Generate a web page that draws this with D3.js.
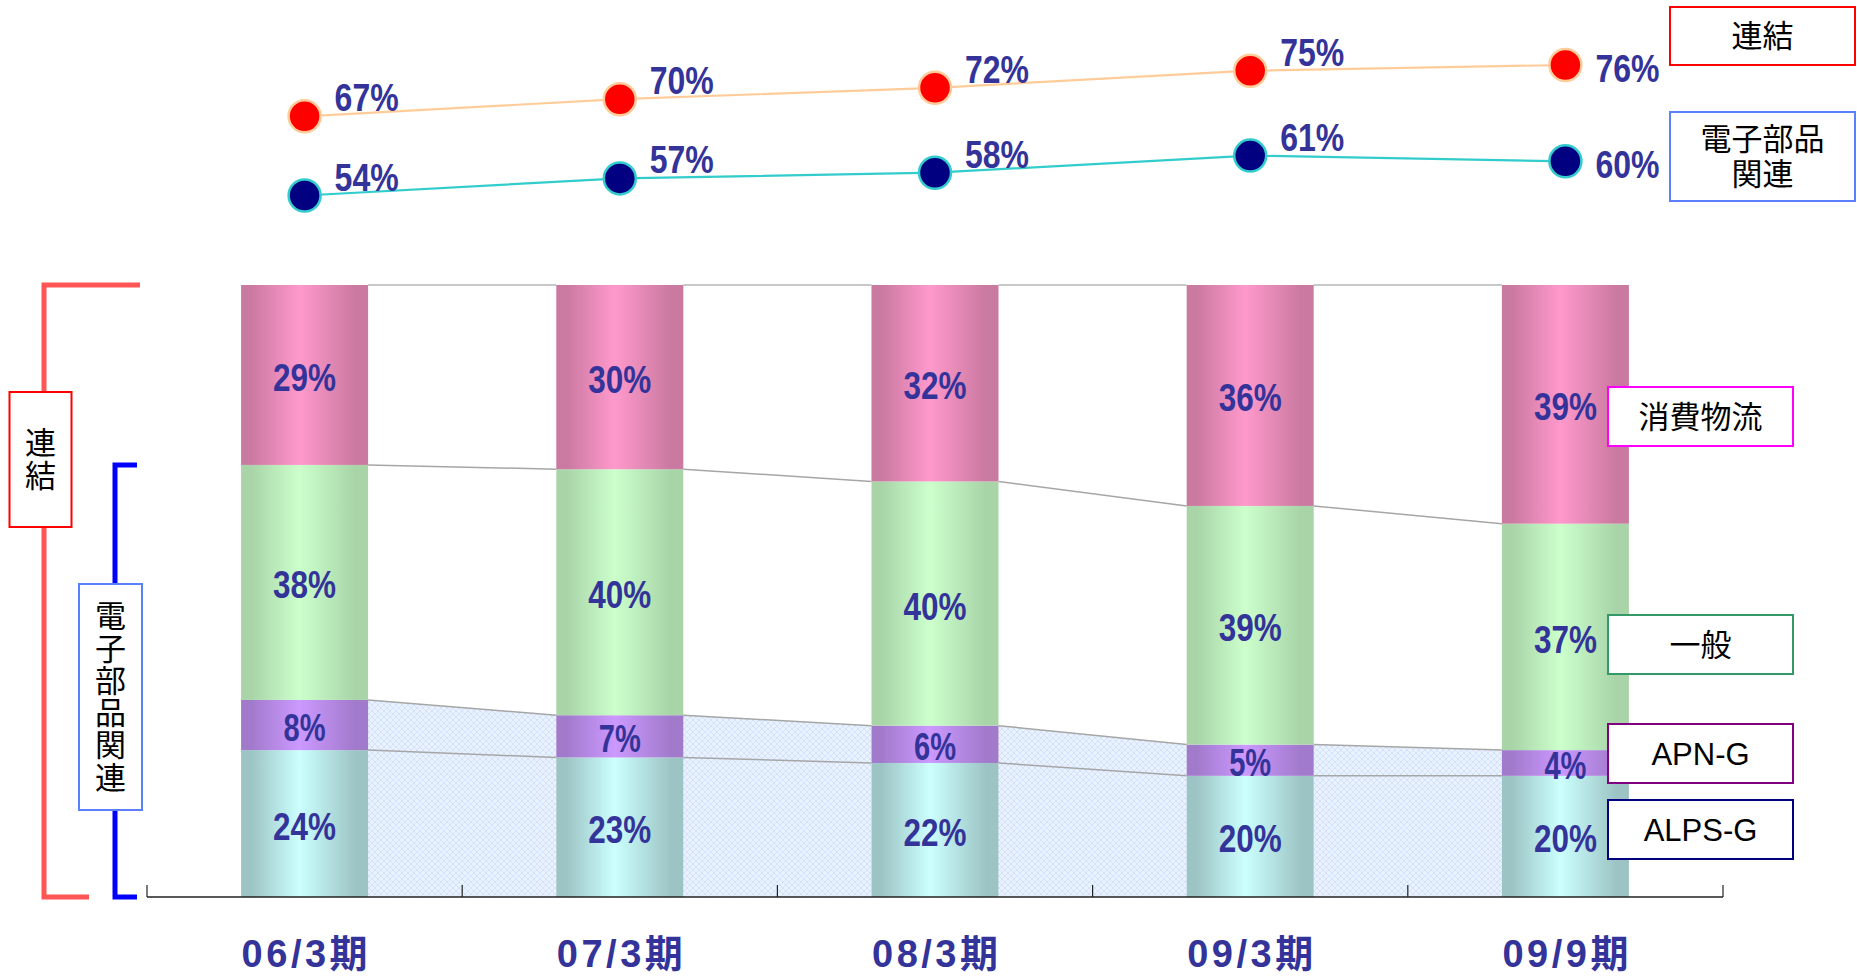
<!DOCTYPE html>
<html lang="ja">
<head>
<meta charset="utf-8">
<title>構成比</title>
<script src="https://cdn.jsdelivr.net/npm/d3@7"></script>
<style>
  body { margin: 0; background: #fff; }
  svg { display: block; font-family: "Liberation Sans", "Noto Sans CJK JP", sans-serif; }
</style>
</head>
<body>
<div class="canvas"></div>
<script>
// 期
var periods = ["06/3期", "07/3期", "08/3期", "09/3期", "09/9期"];
// 構成比(%) 下から積み上げ
var alpsG = [24.0, 22.8, 21.9, 19.8, 19.8];
var apnG  = [8.2, 6.9, 6.1, 5.1, 4.2];
var ippan = [38.4, 40.2, 39.9, 39.0, 37.0];
var shohi = [29.4, 30.1, 32.1, 36.1, 39.0];
// 折れ線(%)
var renketsu = [67, 70, 72, 75, 76];
var denshi   = [54, 57, 58, 61, 60];

var seriesKeys  = ["alps", "apn", "ippan", "shohi"];
var seriesNames = ["ALPS-G", "APN-G", "一般", "消費物流"];
var edgeColors   = ["#9dc4c4", "#a17acc", "#a8d4a8", "#ca79a0"];
var centerColors = ["#ccffff", "#cc99ff", "#ccffcc", "#ff99cc"];
var boxColors    = ["#000080", "#800080", "#339966", "#ff00ff"];
var labelColor = "#333399";

var width = 1857, height = 977;
var svg = d3.select(".canvas").append("svg")
    .attr("width", width)
    .attr("height", height);

// スケール
var x = d3.scaleBand().domain(periods).range([147, 1723])
    .paddingInner(0.597).paddingOuter(0.2985);
var bw = x.bandwidth();
var y = d3.scaleLinear().domain([0, 100]).range([897, 285]);
// 折れ線は別々の軸
var yRen = d3.scaleLinear().domain([0, 100]).range([498.2, -71.8]);
var yDen = d3.scaleLinear().domain([0, 100]).range([503.3, -66.7]);

var table = periods.map(function (p, i) {
  return { period: p, alps: alpsG[i], apn: apnG[i], ippan: ippan[i], shohi: shohi[i] };
});
var stacked = d3.stack().keys(seriesKeys)(table);

// グラデーション・網掛け
var defs = svg.append("defs");
seriesKeys.forEach(function (k, j) {
  var g = defs.append("linearGradient").attr("id", "grad-" + k)
      .attr("x1", 0).attr("x2", 1).attr("y1", 0).attr("y2", 0);
  [[0, edgeColors[j]], [0.08, edgeColors[j]], [0.46, centerColors[j]], [0.9, edgeColors[j]], [1, edgeColors[j]]]
    .forEach(function (s) {
      g.append("stop").attr("offset", s[0]).attr("stop-color", s[1]);
    });
});
var pat = defs.append("pattern").attr("id", "mesh")
    .attr("width", 6).attr("height", 6).attr("patternUnits", "userSpaceOnUse");
pat.append("rect").attr("width", 6).attr("height", 6).attr("fill", "#eaf2ff");
pat.append("path").attr("d", "M0,3L3,0L6,3L3,6Z")
    .attr("fill", "none").attr("stroke", "#d2e2fa").attr("stroke-width", 1);

// 電子部品関連の網掛け(棒の間)
var area = d3.area().x(function (d) { return d[0]; }).y0(y(0)).y1(function (d) { return d[1]; });
for (var i = 0; i < periods.length - 1; i++) {
  var x0 = x(periods[i]) + bw, x1 = x(periods[i + 1]);
  svg.append("path")
    .attr("d", area([[x0, y(stacked[1][i][1])], [x1, y(stacked[1][i + 1][1])]]))
    .attr("fill", "url(#mesh)");
}

// 区分線
stacked.forEach(function (s, j) {
  for (var i = 0; i < periods.length - 1; i++) {
    svg.append("line")
      .attr("x1", x(periods[i]) + bw).attr("y1", y(s[i][1]))
      .attr("x2", x(periods[i + 1])).attr("y2", y(s[i + 1][1]))
      .attr("stroke", j == 3 ? "#c8c8c8" : "#a6a6a6")
      .attr("stroke-width", j == 3 ? 2 : 1.5);
  }
});

// 積み上げ棒
stacked.forEach(function (s, j) {
  svg.append("g").selectAll("rect")
    .data(s)
    .enter().append("rect")
      .attr("x", function (d) { return x(d.data.period); })
      .attr("y", function (d) { return y(d[1]); })
      .attr("width", bw)
      .attr("height", function (d) { return y(d[0]) - y(d[1]); })
      .attr("fill", "url(#grad-" + seriesKeys[j] + ")");
});

// 棒の中のラベル
stacked.forEach(function (s) {
  svg.append("g").selectAll("text")
    .data(s)
    .enter().append("text")
      .text(function (d) { return Math.round(d[1] - d[0]) + "%"; })
      .attr("x", function (d) { return x(d.data.period) + bw / 2 - this.textContent.length * 10.5; })
      .attr("y", function (d) { return (y(d[0]) + y(d[1])) / 2 + 16; })
      .attr("textLength", function () { return this.textContent.length * 21; })
      .attr("lengthAdjust", "spacingAndGlyphs")
      .attr("font-size", 39).attr("font-weight", "bold")
      .attr("fill", labelColor);
});

// 軸
svg.append("line").attr("x1", 147).attr("x2", 1723).attr("y1", y(0)).attr("y2", y(0))
    .attr("stroke", "#222").attr("stroke-width", 1.5);
var tickX = periods.map(function (p) { return x(p) - x.step() * 0.2985; });
tickX.push(x.range()[1]);
svg.append("g").selectAll("line")
  .data(tickX)
  .enter().append("line")
    .attr("x1", function (d) { return d; }).attr("x2", function (d) { return d; })
    .attr("y1", y(0) - 12).attr("y2", y(0))
    .attr("stroke", "#222").attr("stroke-width", 1.2);
svg.append("g").selectAll("text")
  .data(periods)
  .enter().append("text")
    .text(function (d) { return d; })
    .attr("x", function (d) { return x(d) + bw / 2 - 63; })
    .attr("y", 967)
    .attr("textLength", 126).attr("lengthAdjust", "spacing")
    .attr("font-size", 38).attr("font-weight", "bold")
    .attr("fill", labelColor);

// 折れ線
function drawLine(values, sy, lineColor, dotColor) {
  var line = d3.line()
    .x(function (d, i) { return x(periods[i]) + bw / 2; })
    .y(function (d) { return sy(d); });
  svg.append("path").attr("d", line(values))
    .attr("fill", "none").attr("stroke", lineColor).attr("stroke-width", 2.2);
  var g = svg.append("g").selectAll("g").data(values).enter();
  g.append("circle")
    .attr("cx", function (d, i) { return x(periods[i]) + bw / 2; })
    .attr("cy", function (d) { return sy(d); })
    .attr("r", 16)
    .attr("fill", dotColor).attr("stroke", lineColor).attr("stroke-width", 2.5);
  g.append("text")
    .text(function (d) { return d + "%"; })
    .attr("x", function (d, i) { return x(periods[i]) + bw / 2 + 30; })
    .attr("y", function (d, i) { return sy(d) + (i == values.length - 1 ? 17 : -5); })
    .attr("textLength", 64).attr("lengthAdjust", "spacingAndGlyphs")
    .attr("font-size", 39).attr("font-weight", "bold")
    .attr("fill", labelColor);
}
drawLine(renketsu, yRen, "#ffcc99", "#ff0000");
drawLine(denshi, yDen, "#33cccc", "#000080");

// 左の括弧
var top100 = y(100), base = y(0), denTop = y(stacked[3][0][0]);
svg.append("path").attr("d", "M140," + top100 + "H44V" + base + "H89")
    .attr("fill", "none").attr("stroke", "#ff5555").attr("stroke-width", 5);
svg.append("path").attr("d", "M137," + denTop + "H115V" + base + "H137")
    .attr("fill", "none").attr("stroke", "#0000ff").attr("stroke-width", 5);

// 枠付きラベル
function box(bx, by, w, h, color, lines, lineH) {
  svg.append("rect").attr("x", bx).attr("y", by).attr("width", w).attr("height", h)
    .attr("fill", "#fff").attr("stroke", color).attr("stroke-width", 2);
  var t = svg.append("text").attr("text-anchor", "middle")
    .attr("font-size", 31).attr("fill", "#000");
  var cy = by + h / 2 - (lines.length - 1) * lineH / 2;
  lines.forEach(function (s, k) {
    t.append("tspan").attr("x", bx + w / 2).attr("y", cy + k * lineH + 11).text(s);
  });
}
box(9.5, 392, 62, 135, "#ff0000", ["連", "結"], 33);
box(79, 584, 63, 226, "#5b7fff", "電子部品関連".split(""), 32.3);
box(1670, 7, 185, 58, "#ff0000", ["連結"], 0);
box(1670, 112, 185, 89, "#5b7fff", ["電子部品", "関連"], 35.5);

var legendY = [800, 724, 615, 387];
seriesNames.forEach(function (n, j) {
  box(1608, legendY[j], 185, 59, boxColors[j], [n], 0);
});
</script>
</body>
</html>
